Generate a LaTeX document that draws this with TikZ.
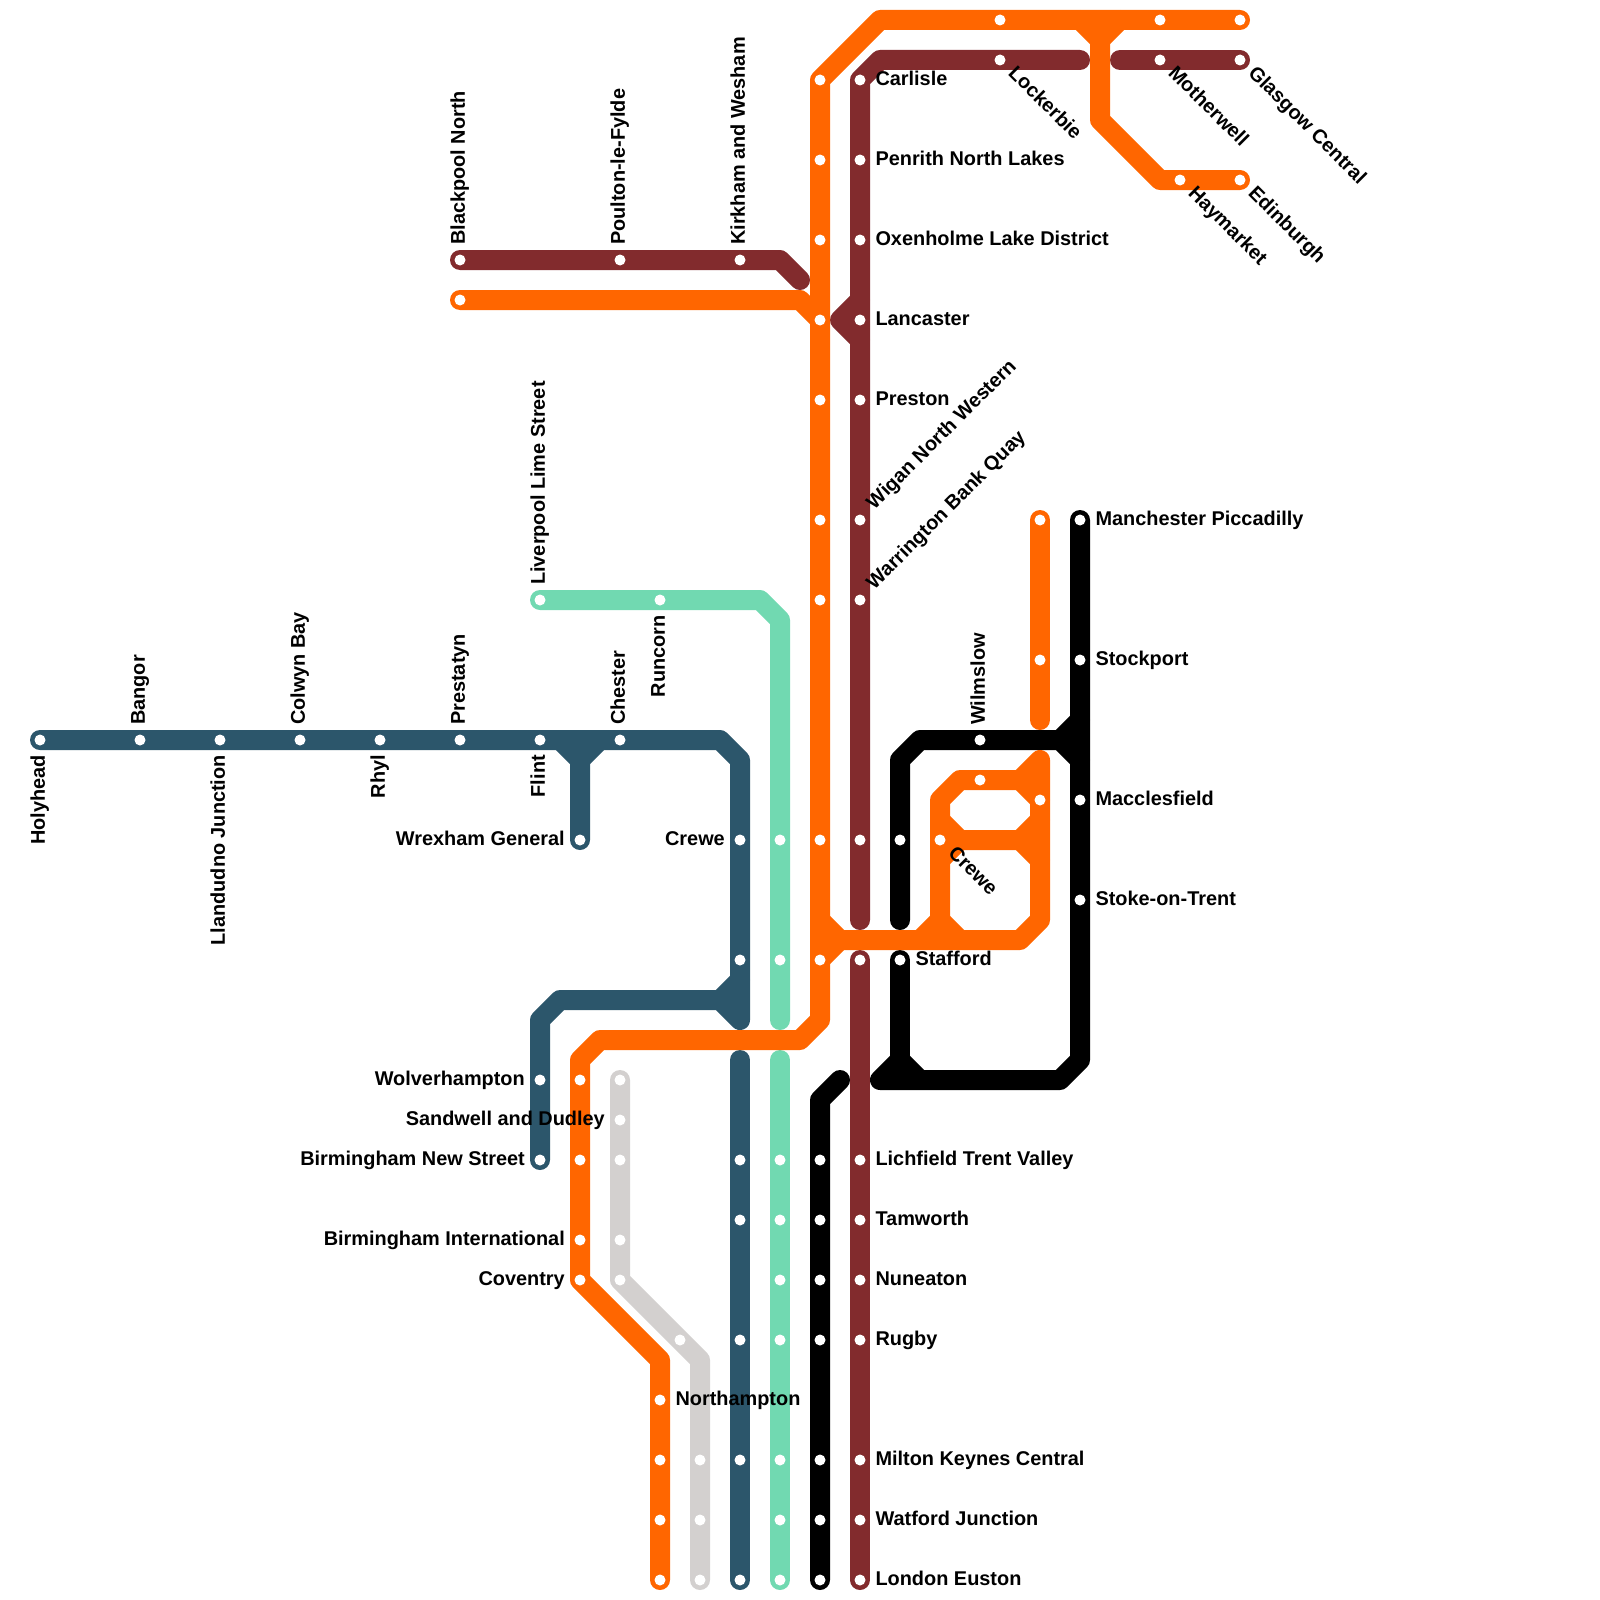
\documentclass[tikz,border=0pt]{standalone}
\usepackage{fontspec}
\setmainfont{Liberation Sans}
\definecolor{euston}{HTML}{FF6600}
\definecolor{wcml}{HTML}{822B2D}
\definecolor{wales}{HTML}{2C566B}
\definecolor{liverpool}{HTML}{71D9B1}
\definecolor{london}{HTML}{D3D0CF}
\tikzset{
  route/.style={line width=20pt,line cap=round,line join=round},
  stop/.style={circle,fill=white,inner sep=0pt,minimum size=11pt},
  lbl/.style={font=\bfseries\fontsize{19.9}{22}\selectfont,inner sep=0pt,text height=14.5pt,text depth=0pt},
  toright/.style={lbl,anchor=west,xshift=15.3pt,yshift=2pt},
  toleft/.style={lbl,anchor=east,xshift=-15pt,yshift=2pt},
  toup/.style={lbl,anchor=west,rotate=90,xshift=15pt,yshift=2.5pt},
  todown/.style={lbl,anchor=east,rotate=90,xshift=-15pt,yshift=2.5pt},
  fall/.style={lbl,anchor=west,rotate=-45,xshift=15pt,yshift=2.5pt},
  rise/.style={lbl,anchor=west,rotate=45,xshift=17pt,yshift=4pt},
}
\begin{document}
\begin{tikzpicture}[x=1pt,y=-1pt]
  \useasboundingbox (0,0) rectangle (1600,1600);
  % teal
  \draw[route,liverpool] (540,600) -- (760,600) -- (780,620) -- (780,1020);
  \draw[route,liverpool] (780,1060) -- (780,1580);
  % grey
  \draw[route,london] (620,1080) -- (620,1280) -- (700,1360) -- (700,1580);
  % blue
  \draw[route,wales] (40,740) -- (720,740) -- (740,760) -- (740,1020) -- (720,1000) -- (560,1000) -- (540,1020) -- (540,1160);
  \draw[route,wales] (720,1000) -- (740,980);
  \draw[route,wales] (560,740) -- (580,760) -- (580,840);
  \draw[route,wales] (600,740) -- (580,760);
  \draw[route,wales] (740,1060) -- (740,1580);
  % dark red
  \draw[route,wcml] (460,260) -- (780,260) -- (800,280);
  \draw[route,wcml] (1080,60) -- (880,60) -- (860,80) -- (860,920);
  \draw[route,wcml] (860,300) -- (840,320) -- (860,340);
  \draw[route,wcml] (1120,60) -- (1240,60);
  \draw[route,wcml] (860,960) -- (860,1580);
  % black
  \draw[route,black] (900,920) -- (900,760) -- (920,740) -- (1060,740) -- (1080,760);
  \draw[route,black] (1060,740) -- (1080,720);
  \draw[route,black] (1080,520) -- (1080,1060) -- (1060,1080) -- (880,1080) -- (900,1060) -- (920,1080);
  \draw[route,black] (900,960) -- (900,1060);
  \draw[route,black] (840,1080) -- (820,1100) -- (820,1580);
  % orange
  \draw[route,euston] (1240,20) -- (880,20) -- (820,80) -- (820,1020) -- (800,1040) -- (600,1040) -- (580,1060) -- (580,1280) -- (660,1360) -- (660,1580);
  \draw[route,euston] (1080,20) -- (1100,40) -- (1100,120) -- (1160,180) -- (1240,180);
  \draw[route,euston] (1120,20) -- (1100,40);
  \draw[route,euston] (460,300) -- (800,300) -- (820,320);
  \draw[route,euston] (820,920) -- (840,940) -- (1020,940) -- (1040,920) -- (1040,760) -- (1020,780) -- (960,780) -- (940,800) -- (940,920) -- (920,940);
  \draw[route,euston] (820,960) -- (840,940);
  \draw[route,euston] (940,920) -- (960,940);
  \draw[route,euston] (1020,780) -- (1040,800);
  \draw[route,euston] (940,820) -- (960,840) -- (1020,840) -- (1040,820);
  \draw[route,euston] (940,860) -- (960,840);
  \draw[route,euston] (1020,840) -- (1040,860);
  \draw[route,euston] (1040,520) -- (1040,720);
  % labels with a stop
  \foreach \y/\t in {80/Carlisle,160/Penrith North Lakes,240/Oxenholme Lake District,320/Lancaster,400/Preston,1160/Lichfield Trent Valley,1220/Tamworth,1280/Nuneaton,1340/Rugby,1460/Milton Keynes Central,1520/Watford Junction,1580/London Euston}
    \node[toright] (n\y) at (860,\y) {\t};
  \foreach \y/\t in {520/Manchester Piccadilly,660/Stockport,800/Macclesfield,900/Stoke-on-Trent}
    \node[toright] (m\y) at (1080,\y) {\t};
  \node[toright] (stafford) at (900,960) {Stafford};
  \node[toright] (northampton) at (660,1400) {Northampton};
  \foreach \x/\y/\t in {580/840/Wrexham General,740/840/Crewe,540/1080/Wolverhampton,620/1120/Sandwell and Dudley,540/1160/Birmingham New Street,580/1240/Birmingham International,580/1280/Coventry}
    \node[toleft] (l\x-\y) at (\x,\y) {\t};
  \foreach \x/\y/\t in {140/740/Bangor,300/740/Colwyn Bay,460/740/Prestatyn,620/740/Chester,980/740/Wilmslow,460/260/Blackpool North,620/260/Poulton-le-Fylde,740/260/Kirkham and Wesham,540/600/Liverpool Lime Street}
    \node[toup] (u\x-\y) at (\x,\y) {\t};
  \foreach \x/\y/\t in {40/740/Holyhead,220/740/Llandudno Junction,380/740/Rhyl,540/740/Flint,660/600/Runcorn}
    \node[todown] (d\x-\y) at (\x,\y) {\t};
  \foreach \x/\y/\t in {1000/60/Lockerbie,1160/60/Motherwell,1240/60/Glasgow Central,1180/180/Haymarket,1240/180/Edinburgh,940/840/Crewe}
    \node[fall] (f\x-\y) at (\x,\y) {\t};
  \foreach \y/\t in {520/Wigan North Western,600/Warrington Bank Quay}
    \node[rise] (r\y) at (860,\y) {\t};
  % stops
  \foreach \y in {80,160,240,320,400,520,600,840,960,1160,1220,1280,1340,1460,1520,1580}
    \node[stop] (red\y) at (860,\y) {};
  \foreach \y in {80,160,240,320,400,520,600,840,960}
    \node[stop] (org\y) at (820,\y) {};
  \foreach \y in {1160,1220,1280,1340,1460,1520,1580}
    \node[stop] (blk\y) at (820,\y) {};
  \foreach \y in {840,960,1160,1220,1280,1340,1460,1520,1580}
    \node[stop] (teal\y) at (780,\y) {};
  \foreach \y in {840,960,1160,1220,1340,1460,1580}
    \node[stop] (blu\y) at (740,\y) {};
  \foreach \x in {40,140,220,300,380,460,540,620}
    \node[stop] (wal\x) at (\x,740) {};
  \foreach \y in {520,660,800,900}
    \node[stop] (man\y) at (1080,\y) {};
  \foreach \x/\y in {1000/20,1160/20,1240/20,1000/60,1160/60,1240/60,1180/180,1240/180,460/260,620/260,740/260,460/300,540/600,660/600,580/840,540/1080,540/1160,580/1080,580/1160,580/1240,580/1280,620/1080,620/1120,620/1160,620/1240,620/1280,680/1340,660/1400,660/1460,660/1520,660/1580,700/1460,700/1520,700/1580,980/740,980/780,1040/800,1040/520,1040/660,900/840,940/840,900/960}
    \node[stop] (s\x-\y) at (\x,\y) {};
\end{tikzpicture}
\end{document}
